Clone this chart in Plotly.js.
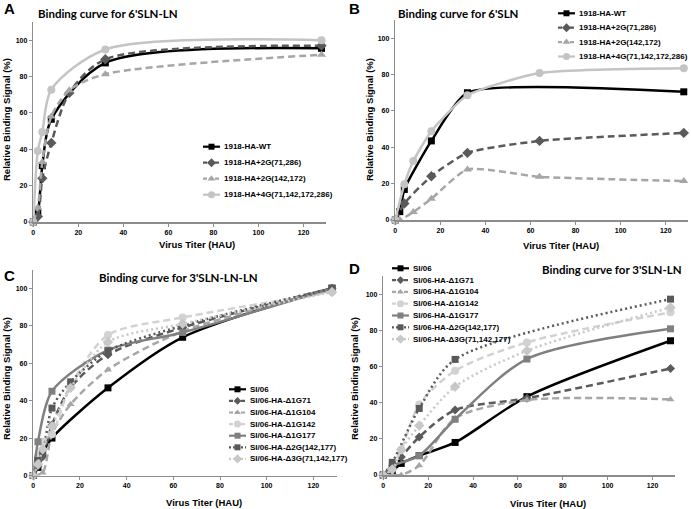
<!DOCTYPE html>
<html>
<head>
<meta charset="utf-8">
<script src="https://cdn.plot.ly/plotly-3.0.1.min.js"></script>
<style>
body { margin: 0; background: #fff; }
#chartDiv { width: 691px; height: 509px; }
</style>
</head>
<body>
<div id="chartDiv"></div>
<script>
// ---- data (null = no marker there) ----

// A: 6'SLN-LN
var titersA = [0, 2, 4, 8, 16, 32, 128];
var namesA = ['1918-HA-WT', '1918-HA+2G(71,286)', '1918-HA+2G(142,172)', '1918-HA+4G(71,142,172,286)'];
var wtA   = [0, 5, 31, 56.5, null, 87.5, 95.5];
var g71A  = [0, 3, 24, 43.5, 71, 89.5, 97];
var g142A = [0, 8, 33, 58, 72.5, 81.3, 92];
var g4A   = [0, 39, 49.5, 72.8, null, 94.9, 100];

// B: 6'SLN
var titersB = [0, 2, 4, 8, 16, 32, 64, 128];
var namesB = namesA;
var wtB   = [0, 4.6, 16.8, null, 43.5, 70, null, 70.5];
var g71B  = [0, null, 9.1, null, 24.1, 36.9, 43.5, 47.9];
var g142B = [0, 0, null, 4.4, 11.7, 27.8, 23.8, 21.4];
var g4B   = [0, null, 19.6, 32.4, 48.8, 68.6, 80.8, 83.5];

// C: 3'SLN-LN-LN
var titersC = [0, 2, 4, 8, 16, 32, 64, 128];
var namesC = ['SI/06', 'SI/06-HA-\u03941G71', 'SI/06-HA-\u03941G104', 'SI/06-HA-\u03941G142',
              'SI/06-HA-\u03941G177', 'SI/06-HA-\u03942G(142,177)', 'SI/06-HA-\u03943G(71,142,177)'];
var si06C  = [0, 4.3, 11.9, 20, null, 46.8, 73.8, 100];
var d71C   = [0, 5, 10, 27, 47, 64.5, 79, 100];
var d104C  = [0, null, 1.5, 22, 38, 56.5, 77, 99];
var d142C  = [0, 10, 18, 22, 48, 75, 84.4, 98];
var d177C  = [0, 18, null, 45, null, 67, 76.4, 100];
var d2gC   = [0, 8, 12, 36, 50, 66.5, 80, 100];
var d3gC   = [0, 6, 14, 26.2, 46.8, 71.3, 81, 98];

// D: 3'SLN-LN
var titersD = [0, 4, 8, 16, 32, 64, 128];
var namesD = namesC;
var si06D  = [0, 2.2, 6.4, 10.7, 18, 43.3, 74.2];
var d71D   = [0, 3.7, 10, 21, 35.9, 42.4, 58.9];
var d104D  = [0, 0, 0, 5.2, 31.3, 41.4, 41.8];
var d142D  = [0, 5, 14, 39, 57.6, 73.3, 89.9];
var d177D  = [0, 5, null, 10.7, 30.8, 64.1, 80.8];
var d2gD   = [0, 7, null, 36.8, 63.9, null, 97.2];
var d3gD   = [0, 3, 14, 27.3, 48.8, 68.7, 92.6];

var xTicks = [0, 20, 40, 60, 80, 100, 120];
var yTicks = [0, 20, 40, 60, 80, 100];

// ---- styles ----
var DASH = '7px,4px';
var DOT = '2px,3px';
var stylesAB = [
  {color: '#000000', dash: 'solid', symbol: 'square', size: 7},
  {color: '#5a5a5a', dash: DASH, symbol: 'diamond', size: 8},
  {color: '#a6a6a6', dash: DASH, symbol: 'triangle-up', size: 8},
  {color: '#c4c4c4', dash: 'solid', symbol: 'circle', size: 8}
];
var stylesCD = [
  {color: '#000000', dash: 'solid', symbol: 'square', size: 7},
  {color: '#5a5a5a', dash: DASH, symbol: 'diamond', size: 7},
  {color: '#a6a6a6', dash: DASH, symbol: 'triangle-up', size: 7},
  {color: '#d2d2d2', dash: DASH, symbol: 'circle', size: 8},
  {color: '#808080', dash: 'solid', symbol: 'square', size: 7},
  {color: '#595959', dash: DOT, symbol: 'square', size: 7},
  {color: '#c8c8c8', dash: DOT, symbol: 'diamond', size: 8}
];

var panels = [
  {ax: '', titers: titersA, names: namesA, series: [wtA, g71A, g142A, g4A], styles: stylesAB, smooth: 0.8,
   xdom: [33.3, 326], ydom: [222, 22],
   title: "Binding curve for 6'SLN-LN", titleX: 36, titleY: 13, letter: 'A', letterX: 2, letterY: 8,
   xTitleX: 197, xTitleY: 244, yTitleX: 6, yTitleY: 120,
   legX: 203, legY: 146.7, legStep: 16},
  {ax: '2', titers: titersB, names: namesB, series: [wtB, g71B, g142B, g4B], styles: stylesAB, smooth: 0.55,
   xdom: [395.3, 688.3], ydom: [220, 20],
   title: "Binding curve for 6'SLN", titleX: 396, titleY: 13, letter: 'B', letterX: 347, letterY: 8,
   xTitleX: 561, xTitleY: 245, yTitleX: 369, yTitleY: 120,
   legX: 558, legY: 13.3, legStep: 14.4},
  {ax: '3', titers: titersC, names: namesC, series: [si06C, d71C, d104C, d142C, d177C, d2gC, d3gC], styles: stylesCD, smooth: 0.8,
   xdom: [33.3, 336.7], ydom: [475.5, 269.5],
   title: "Binding curve for 3'SLN-LN-LN", titleX: 97, titleY: 277, letter: 'C', letterX: 2, letterY: 275,
   xTitleX: 204, xTitleY: 502, yTitleX: 6, yTitleY: 379,
   legX: 229, legY: 389.3, legStep: 11.6},
  {ax: '4', titers: titersD, names: namesD, series: [si06D, d71D, d104D, d142D, d177D, d2gD, d3gD], styles: stylesCD, smooth: 0.8,
   xdom: [383.3, 675], ydom: [475, 276],
   title: "Binding curve for 3'SLN-LN", titleX: 540, titleY: 269, letter: 'D', letterX: 347, letterY: 268,
   xTitleX: 548, xTitleY: 503, yTitleX: 354, yTitleY: 379,
   legX: 392, legY: 268.3, legStep: 11.8}
];

var W = 691, H = 509;
var axisFont = {family: 'Liberation Sans, Arial, sans-serif', size: 7, color: '#000', weight: 'bold'};
var labelFont = {family: 'Liberation Sans, Arial, sans-serif', size: 9.5, color: '#000', weight: 'bold'};
var legendFont = {family: 'Liberation Sans Narrow, Arial Narrow, Liberation Sans, sans-serif', size: 8, color: '#000', weight: 'bold'};

var data = [];
var layout = {
  width: W, height: H,
  margin: {l: 0, r: 0, t: 0, b: 0},
  paper_bgcolor: '#fff', plot_bgcolor: 'rgba(0,0,0,0)',
  showlegend: false,
  annotations: [],
  // pixel-sized overlay used for the hand-built legends and labels
  xaxis5: {domain: [0, 1], range: [0, W], visible: false, fixedrange: true},
  yaxis5: {domain: [0, 1], range: [H, 0], visible: false, fixedrange: true, anchor: 'x5'}
};

function addText(txt, x, y, font, xanchor, angle) {
  layout.annotations.push({
    text: txt, x: x, y: y, xref: 'x5', yref: 'y5',
    xanchor: xanchor, yanchor: 'middle', showarrow: false,
    textangle: angle || 0, font: font
  });
}

panels.forEach(function(p) {
  var xa = 'x' + p.ax, ya = 'y' + p.ax;
  layout['xaxis' + p.ax] = {
    domain: [p.xdom[0] / W, p.xdom[1] / W], anchor: ya,
    range: [0, 130], tickvals: xTicks, ticks: 'outside', ticklen: 3, tickcolor: '#8c8c8c',
    showline: true, linecolor: '#8c8c8c', linewidth: 1.5, showgrid: false, zeroline: false,
    tickfont: axisFont, fixedrange: true
  };
  layout['yaxis' + p.ax] = {
    domain: [1 - p.ydom[0] / H, 1 - p.ydom[1] / H], anchor: xa,
    range: [0, 110], tickvals: yTicks, ticks: 'outside', ticklen: 3, tickcolor: '#8c8c8c',
    showline: true, linecolor: '#8c8c8c', linewidth: 1.5, showgrid: false, zeroline: false,
    tickfont: axisFont, fixedrange: true
  };

  p.series.forEach(function(vals, i) {
    var st = p.styles[i];
    data.push({
      x: p.titers, y: vals, xaxis: xa, yaxis: ya,
      type: 'scatter', mode: 'lines+markers', name: p.names[i],
      connectgaps: true, cliponaxis: false,
      line: {color: st.color, width: 2.5, dash: st.dash, shape: 'spline', smoothing: p.smooth},
      marker: {color: st.color, symbol: st.symbol, size: st.size}
    });
  });

  // legend rows: short line sample with the marker in its middle, then the name
  p.names.forEach(function(name, i) {
    var st = p.styles[i];
    var yy = p.legY + i * p.legStep;
    data.push({
      x: [p.legX, p.legX + 8.5, p.legX + 17], y: [yy, yy, yy], xaxis: 'x5', yaxis: 'y5',
      type: 'scatter', mode: 'lines+markers', hoverinfo: 'skip', cliponaxis: false,
      line: {color: st.color, width: 2.2, dash: st.dash === 'solid' ? 'solid' : (st.dash === DOT ? '2px,2px' : '4px,2px')},
      marker: {color: st.color, symbol: st.symbol, size: st.size - 1, opacity: [0, 1, 0]}
    });
    addText(name, p.legX + 19, yy, legendFont, 'left');
  });

  addText(p.title, p.titleX, p.titleY, {family: 'Lato, Open Sans, sans-serif', size: 11.5, color: '#000', weight: 'bold'}, 'left');
  addText(p.letter, p.letterX, p.letterY, {family: 'Liberation Sans, Arial, sans-serif', size: 15, color: '#000', weight: 'bold'}, 'left');
  addText('Virus Titer (HAU)', p.xTitleX, p.xTitleY, labelFont, 'center');
  addText('Relative Binding Signal (%)', p.yTitleX, p.yTitleY, labelFont, 'center', -90);
});

Plotly.newPlot('chartDiv', data, layout, {displayModeBar: false, staticPlot: true});
</script>
</body>
</html>
